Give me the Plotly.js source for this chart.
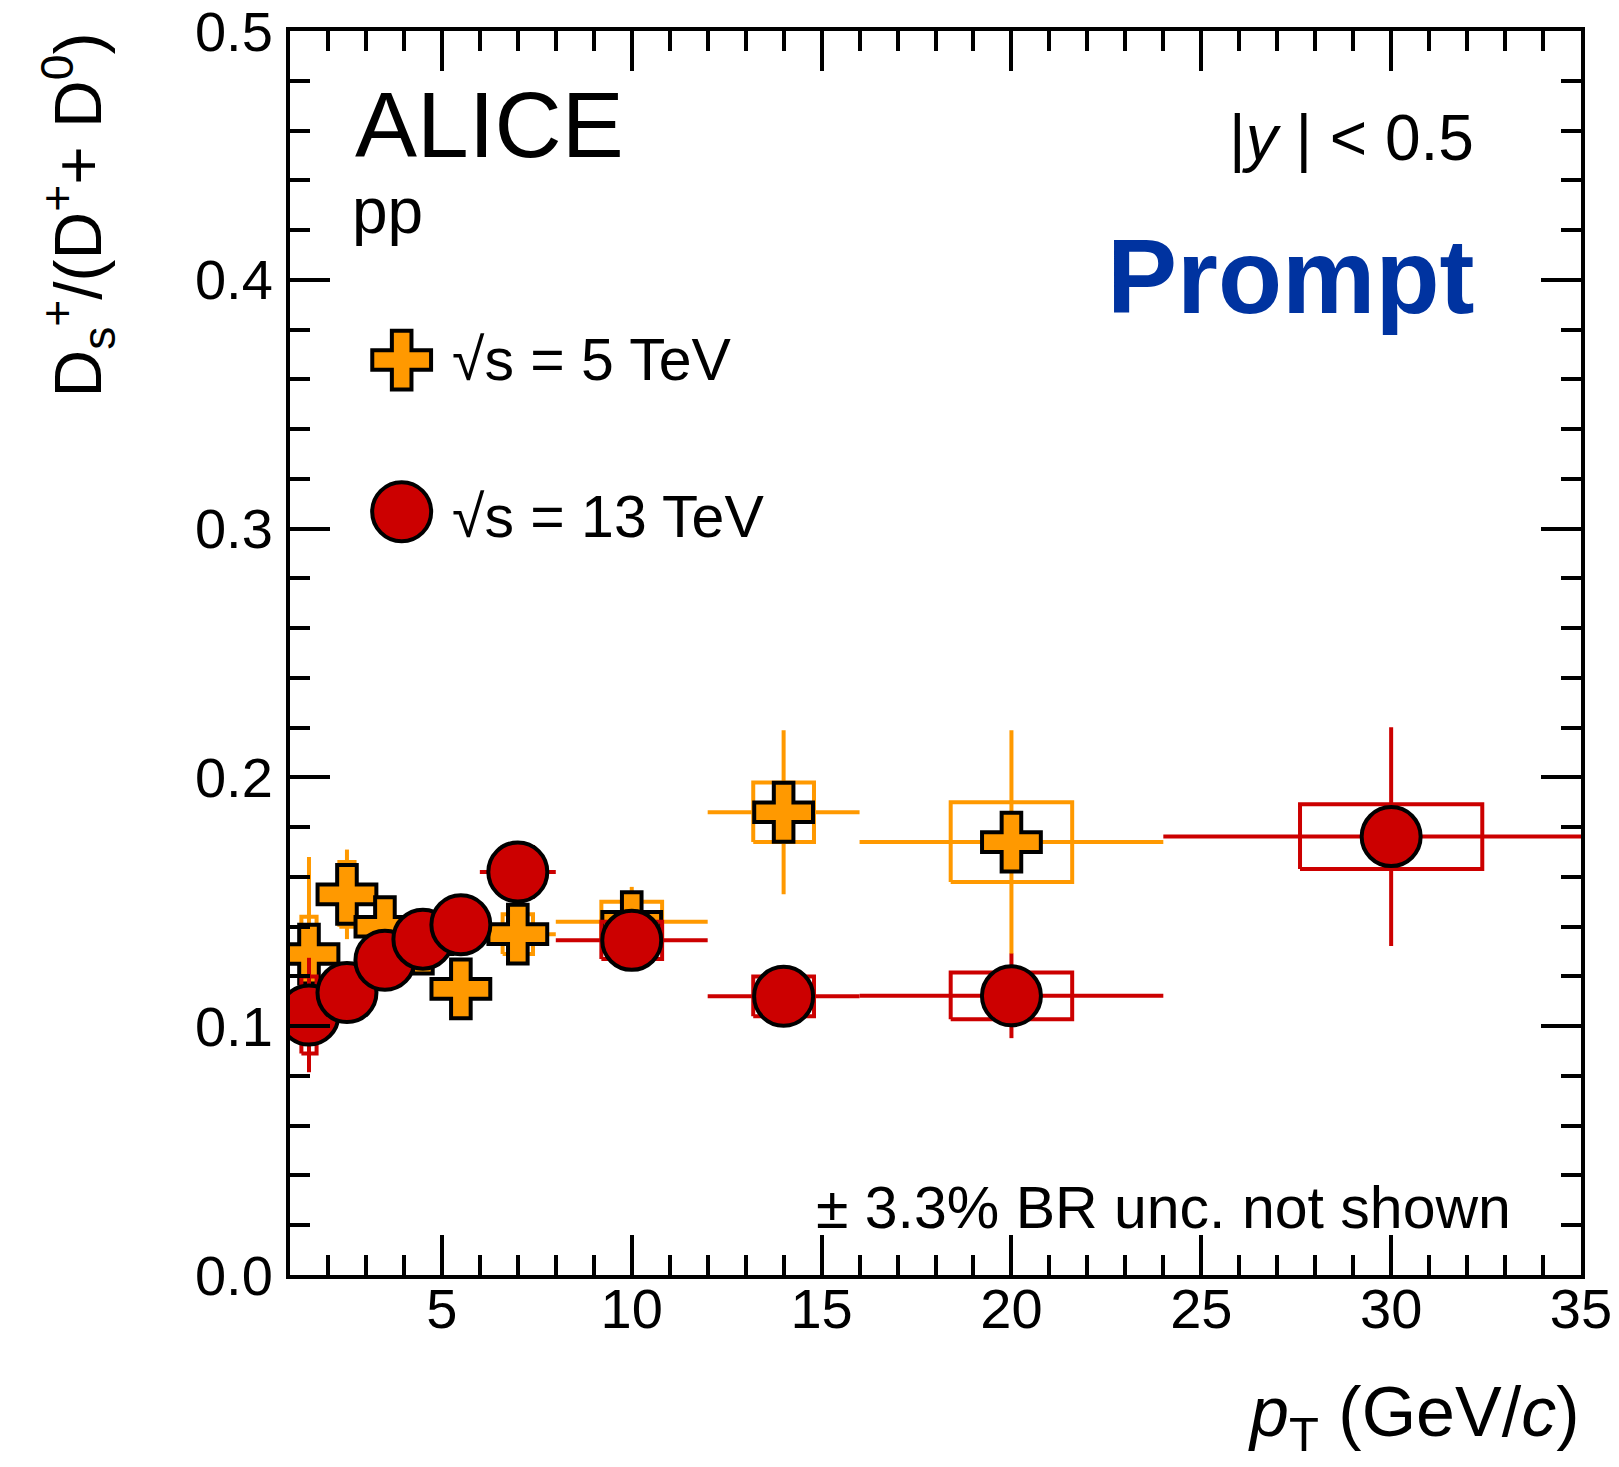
<!DOCTYPE html>
<html><head><meta charset="utf-8">
<script src="https://cdn.plot.ly/plotly-3.0.1.min.js"></script>
<style>html,body{margin:0;padding:0;background:#fff}</style>
</head><body><div id="chart" style="width:1619px;height:1467px"></div>
<script>
// ---- data: sqrt(s) = 5 TeV ----
const pt5     = [1.5, 2.5, 3.5, 4.5, 5.5, 7, 10, 14, 20];
const ptLow5  = [1, 2, 3, 4, 5, 6, 8, 12, 16];
const ptHigh5 = [2, 3, 4, 5, 6, 8, 12, 16, 24];
const ratio5  = [0.129, 0.153, 0.140, 0.133, 0.115, 0.137, 0.142, 0.186, 0.174];
const stat5   = [0.039, 0.018, 0.012, 0.012, 0.012, 0.010, 0.014, 0.033, 0.045];
const syst5   = [0.015, 0.013, 0.010, 0.010, 0.009, 0.008, 0.008, 0.012, 0.016];
// ---- data: sqrt(s) = 13 TeV ----
const pt13     = [1.5, 2.5, 3.5, 4.5, 5.5, 7, 10, 14, 20, 30];
const ptLow13  = [1, 2, 3, 4, 5, 6, 8, 12, 16, 24];
const ptHigh13 = [2, 3, 4, 5, 6, 8, 12, 16, 24, 36];
const ratio13  = [0.1045, 0.1135, 0.1265, 0.135, 0.1408, 0.162, 0.1345, 0.112, 0.1122, 0.1762];
const stat13   = [0.023, 0.010, 0.008, 0.008, 0.008, 0.008, 0.006, 0.008, 0.017, 0.044];
const syst13   = [0.0155, 0.010, 0.010, 0.010, 0.010, 0.010, 0.0075, 0.008, 0.0094, 0.013];
// ---- labels ----
const legendLabels = ['\u221As = 5 TeV', '\u221As = 13 TeV'];
const yTitle = 'D<sub>s</sub><sup>+</sup>/(D<sup>+</sup>+ D<sup>0</sup>)';
const xTitle = '<i>p</i><sub>T</sub> (GeV/<i>c</i>)';

const FONT = '"Liberation Sans", Arial, Helvetica, sans-serif';
const ORANGE = '#ff9900', RED = '#cc0000', BLUE = '#0033a0';

function boxTrace(pt, lo, hi, val, sys, color) {
  const x = [], y = [];
  for (let i = 0; i < pt.length; i++) {
    const hw = 0.2 * (hi[i] - lo[i]);
    x.push(pt[i] - hw, pt[i] + hw, pt[i] + hw, pt[i] - hw, pt[i] - hw, null);
    y.push(val[i] - sys[i], val[i] - sys[i], val[i] + sys[i], val[i] + sys[i], val[i] - sys[i], null);
  }
  return {type: 'scatter', mode: 'lines', x, y, line: {color, width: 4}, hoverinfo: 'skip', showlegend: false};
}
function pointTrace(pt, lo, hi, val, stat, color, symbol, size) {
  return {
    type: 'scatter', mode: 'markers', x: pt, y: val, showlegend: false,
    error_x: {type: 'data', symmetric: false, array: hi.map((h, i) => h - pt[i]),
              arrayminus: lo.map((l, i) => pt[i] - l), color, thickness: 4, width: 0},
    error_y: {type: 'data', array: stat, color, thickness: 4, width: 0},
    marker: {symbol, size, color, line: {color: 'black', width: 4}}
  };
}

const traces = [
  boxTrace(pt5, ptLow5, ptHigh5, ratio5, syst5, ORANGE),
  pointTrace(pt5, ptLow5, ptHigh5, ratio5, stat5, ORANGE, 'cross', 49),
  boxTrace(pt13, ptLow13, ptHigh13, ratio13, syst13, RED),
  pointTrace(pt13, ptLow13, ptHigh13, ratio13, stat13, RED, 'circle', 59),
  // legend symbols on an overlay axis in plot-fraction units
  {type: 'scatter', mode: 'markers', x: [0.0865], y: [0.7355], xaxis: 'x2', yaxis: 'y2', showlegend: false,
   marker: {symbol: 'cross', size: 49, color: ORANGE, line: {color: 'black', width: 4}}},
  {type: 'scatter', mode: 'markers', x: [0.0865], y: [0.6136], xaxis: 'x2', yaxis: 'y2', showlegend: false,
   marker: {symbol: 'circle', size: 59, color: RED, line: {color: 'black', width: 4}}}
];

const axisCommon = {
  ticks: 'inside', ticklen: 40, tickwidth: 4, tickcolor: 'black',
  showline: true, linewidth: 4, linecolor: 'black', mirror: 'ticks',
  showgrid: false, zeroline: false, ticklabeloverflow: 'allow',
  tickfont: {family: FONT, size: 56, color: 'black'}
};

const ann = (text, x, y, xanchor, size, extra) => Object.assign({
  text, x, y, xref: 'paper', yref: 'paper', xanchor, yanchor: 'middle', showarrow: false,
  font: {family: FONT, size, color: 'black'}
}, extra || {});

const layout = {
  width: 1619, height: 1467,
  margin: {l: 290, r: 38, t: 31, b: 192},
  paper_bgcolor: '#fff', plot_bgcolor: '#fff',
  showlegend: false,
  xaxis: Object.assign({}, axisCommon, {
    range: [1, 35], tick0: 0, dtick: 5, ticklabelstandoff: -18,
    minor: {tick0: 0, dtick: 1, ticks: 'inside', ticklen: 20, tickwidth: 4, tickcolor: 'black', showgrid: false}
  }),
  yaxis: Object.assign({}, axisCommon, {
    range: [0, 0.50001], tick0: 0, dtick: 0.1, tickformat: '.1f', ticklabelstandoff: 2,
    minor: {tick0: 0, dtick: 0.02, ticks: 'inside', ticklen: 20, tickwidth: 4, tickcolor: 'black', showgrid: false}
  }),
  xaxis2: {overlaying: 'x', anchor: 'y2', range: [0, 1], visible: false, fixedrange: true},
  yaxis2: {overlaying: 'y', anchor: 'x2', range: [0, 1], visible: false, fixedrange: true},
  annotations: [
    ann('ALICE', 0.0488, 0.9244, 'left', 93),
    ann('pp', 0.0465, 0.8553, 'left', 64),
    ann('|<i>y</i> | < 0.5', 0.9187, 0.914, 'right', 64),
    ann('<b>Prompt</b>', 0.9194, 0.8023, 'right', 105, {font: {family: FONT, size: 105, color: BLUE}}),
    ann(legendLabels[0], 0.1239, 0.7359, 'left', 59),
    ann(legendLabels[1], 0.1239, 0.6094, 'left', 59),
    ann('\u00B1 3.3% BR unc. not shown', 0.9473, 0.054, 'right', 59),
    ann(yTitle, 0, 1, 'center', 66, {textangle: -90, yanchor: 'top', xshift: -212}),
    ann(xTitle, 1, 0, 'right', 70, {yshift: -142})
  ]
};

Plotly.newPlot('chart', traces, layout, {staticPlot: true, displayModeBar: false});
</script></body></html>
